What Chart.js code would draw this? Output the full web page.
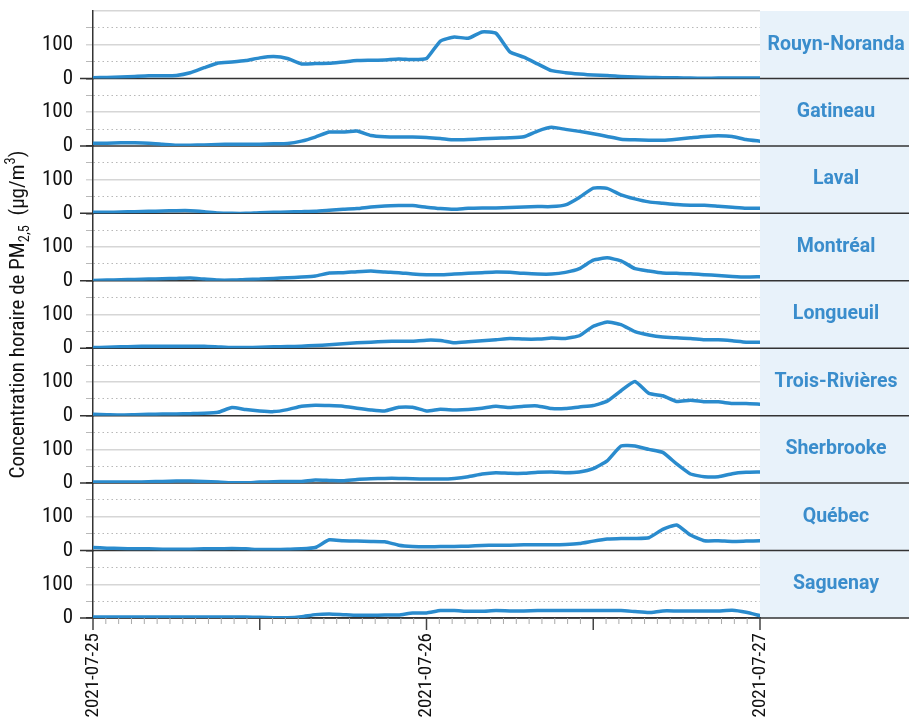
<!DOCTYPE html>
<html>
<head>
<meta charset="utf-8">
<script src="https://cdn.jsdelivr.net/npm/chart.js@4.4.1/dist/chart.umd.min.js"></script>
<style>
  html, body { margin: 0; padding: 0; background: #fff; }
  #wrap { width: 909px; height: 717px; }
</style>
</head>
<body>
<div id="wrap"><canvas id="pmChart"></canvas></div>
<script>
// hourly readings from 2021-07-25 00h to 2021-07-27 00h
const hours = Array.from({ length: 49 }, (_, i) => i);
const dateLabels = { 0: '2021-07-25', 24: '2021-07-26', 48: '2021-07-27' };
const stations = ['Rouyn-Noranda', 'Gatineau', 'Laval', 'Montréal', 'Longueuil',
                  'Trois-Rivières', 'Sherbrooke', 'Québec', 'Saguenay'];

const rouynNoranda = [2, 3, 4, 6, 8, 8, 9, 17, 32, 46, 49, 53, 61, 65, 59, 43, 44, 45, 49, 53, 54, 55, 58, 56, 59,
                      111, 123, 119, 138, 134, 79, 63, 43, 23, 17, 13, 10, 9, 6, 4, 3, 2, 2, 1, 0.5, 1, 1, 1, 1];
const gatineau = [8, 8, 9, 9, 8, 5, 2, 2, 3, 4, 5, 5, 5, 6, 7, 14, 26, 41, 41, 44, 31, 27, 26, 26, 25,
                  22, 18, 19, 21, 23, 24, 27, 44, 55, 49, 43, 36, 28, 20, 18, 17, 17, 20, 24, 28, 30, 28, 19, 14];
const laval = [3, 3, 4, 5, 6, 7, 8, 8, 5, 1, 0, 0, 2, 3, 4, 5, 6, 9, 12, 14, 19, 22, 23, 23, 18,
               14, 12, 15, 16, 16, 17, 19, 20, 20, 25, 47, 75, 74, 55, 43, 34, 30, 26, 24, 24, 21, 18, 15, 15];
const montreal = [1, 2, 3, 4, 5, 6, 7, 8, 5, 2, 2, 4, 5, 7, 9, 11, 14, 23, 24, 27, 29, 26, 24, 20, 18,
                  18, 20, 22, 24, 26, 25, 22, 20, 20, 25, 36, 61, 68, 59, 36, 29, 23, 22, 21, 18, 16, 13, 11, 12];
const longueuil = [2, 3, 4, 5, 6, 6, 6, 6, 6, 4, 2, 2, 3, 4, 5, 6, 8, 10, 13, 16, 18, 20, 21, 21, 24,
                   23, 16, 19, 22, 25, 29, 27, 27, 30, 29, 37, 65, 78, 70, 49, 39, 33, 31, 29, 25, 25, 22, 18, 18];
const troisRivieres = [4, 3, 2, 3, 4, 5, 5, 6, 7, 10, 24, 18, 14, 12, 18, 28, 31, 30, 28, 22, 17, 14, 25, 25, 14,
                       19, 17, 18, 22, 28, 24, 28, 29, 21, 21, 26, 30, 43, 74, 101, 66, 59, 42, 46, 41, 41, 36, 36, 34];
const sherbrooke = [3, 3, 3, 3, 4, 5, 6, 6, 5, 3, 1, 1, 3, 4, 5, 5, 9, 8, 7, 11, 13, 14, 14, 13, 12,
                    12, 14, 19, 27, 31, 29, 29, 32, 33, 31, 33, 43, 66, 110, 110, 100, 91, 57, 27, 19, 19, 28, 32, 33];
const quebec = [9, 7, 6, 5, 5, 4, 4, 4, 5, 5, 6, 5, 3, 3, 4, 5, 9, 32, 29, 28, 27, 26, 16, 12, 11,
                12, 12, 13, 15, 16, 16, 17, 17, 17, 18, 21, 28, 34, 36, 36, 38, 63, 76, 46, 29, 29, 27, 28, 29];
const saguenay = [3, 3, 3, 3, 3, 3, 3, 3, 3, 3, 3, 3, 2, 1, 1, 4, 10, 12, 10, 8, 8, 9, 9, 15, 15,
                  22, 22, 20, 20, 22, 21, 21, 22, 22, 22, 22, 22, 22, 22, 19, 16, 21, 21, 21, 21, 21, 23, 17, 7];

const series = [rouynNoranda, gatineau, laval, montreal, longueuil, troisRivieres, sherbrooke, quebec, saguenay];

const LINE = '#2a8bcd';
const narrow = "'Liberation Sans Narrow', 'Roboto Condensed', 'Liberation Sans', sans-serif";

const scales = {
    x: {
        type: 'linear', min: 0, max: 48,
        afterBuildTicks: (s) => { s.ticks = Array.from({ length: 53 }, (_, i) => ({ value: i * 12 / 13 })); },
        afterFit: (s) => { s.height = 99; },
        grid: { drawOnChartArea: false, drawTicks: false },
        border: { display: true, color: '#333', width: 1.5 },
        ticks: {
            autoSkip: false, minRotation: 90, maxRotation: 90, padding: 15,
            color: '#111', font: { family: narrow, size: 19 },
            callback: (v) => dateLabels[Math.round(v * 1000) / 1000] || '',
        },
    },
};

// left boxes in one stack get laid out last-created on top, so build from the bottom panel up
for (let i = stations.length - 1; i >= 0; i--) {
    scales['y' + i] = {
        type: 'linear', position: 'left', stack: 'panels', stackWeight: 1,
        min: 0, max: 200,
        afterFit: (s) => { s.width = 93; s.paddingTop = 0; s.paddingBottom = 0; },
        border: {
            display: true, color: '#333', width: 1.5,
            dash: (c) => (c.tick && c.tick.value % 100 === 50 ? [1.5, 3] : []),
        },
        grid: {
            color: (c) => {
                const v = c.tick.value;
                if (v === 0) return 'rgba(0,0,0,0)';
                if (v === 100) return '#d6d6d6';
                if (v === 200) return i === 0 ? '#d6d6d6' : 'rgba(0,0,0,0)';
                return '#b8b8b8';
            },
            lineWidth: (c) => (c.tick.value % 100 === 50 ? 1 : 1.5),
            tickLength: 7,
            tickColor: (c) => {
                const v = c.tick.value;
                if (v === 0) return '#333';
                if (v === 200) return 'rgba(0,0,0,0)';
                return v === 100 ? '#d6d6d6' : '#b8b8b8';
            },
        },
        ticks: {
            stepSize: 50, padding: 13, color: '#111', autoSkip: false,
            font: { family: narrow, size: 21, lineHeight: 1 },
            callback: (v) => (v === 0 || v === 100 ? String(v) : ''),
        },
    };
}

const panelDecor = {
    id: 'panelDecor',
    beforeDraw(chart) {
        const { ctx, chartArea: a } = chart;
        ctx.save();
        ctx.fillStyle = '#e8f2fa';
        ctx.fillRect(a.right, a.top, chart.width - a.right, a.bottom - a.top);
        ctx.restore();
    },
    beforeDatasetsDraw(chart) {
        const { ctx, chartArea: a } = chart;
        ctx.save();
        ctx.strokeStyle = '#333';
        ctx.lineWidth = 1.5;
        stations.forEach((name, i) => {
            const y = chart.scales['y' + i].getPixelForValue(0);
            ctx.beginPath(); ctx.moveTo(a.left - 13, y); ctx.lineTo(chart.width, y); ctx.stroke();
        });
        const xs = chart.scales.x;
        xs.ticks.forEach((t, i) => {
            const x = xs.getPixelForValue(t.value);
            const major = i % 13 === 0;
            ctx.strokeStyle = major ? '#444' : '#aaa';
            ctx.lineWidth = major ? 1.5 : 1;
            ctx.beginPath(); ctx.moveTo(x, a.bottom); ctx.lineTo(x, a.bottom + (major ? 12 : 6)); ctx.stroke();
        });
        ctx.restore();
    },
    afterDraw(chart) {
        const { ctx, chartArea: a } = chart;
        ctx.save();
        // facet strip labels
        ctx.fillStyle = '#3a8dcc';
        ctx.font = "bold 19.5px Roboto, 'Liberation Sans', sans-serif";
        ctx.textAlign = 'center';
        ctx.textBaseline = 'middle';
        stations.forEach((name, i) => {
            const s = chart.scales['y' + i];
            ctx.fillText(name, 836, (s.top + s.bottom) / 2);
        });
        // y title with sub/superscript
        const parts = [
            { t: 'Concentration horaire de PM', size: 21, dy: 0 },
            { t: '2,5', size: 14.5, dy: 6 },
            { t: '  (µg/m', size: 21, dy: 0 },
            { t: '3', size: 14.5, dy: -8 },
            { t: ')', size: 21, dy: 0 },
        ];
        ctx.fillStyle = '#111';
        ctx.textAlign = 'left';
        let total = 0;
        parts.forEach((p) => { ctx.font = `${p.size}px ${narrow}`; p.w = ctx.measureText(p.t).width; total += p.w; });
        ctx.translate(19, (a.top + a.bottom) / 2);
        ctx.rotate(-Math.PI / 2);
        let x = -total / 2;
        parts.forEach((p) => { ctx.font = `${p.size}px ${narrow}`; ctx.fillText(p.t, x, p.dy); x += p.w; });
        ctx.restore();
    },
};

new Chart(document.getElementById('pmChart'), {
    type: 'line',
    data: {
        labels: hours,
        datasets: series.map((d, i) => ({
            label: stations[i], data: d, yAxisID: 'y' + i, xAxisID: 'x',
            borderColor: LINE, borderWidth: 3.5, tension: 0.15, pointRadius: 0,
            borderJoinStyle: 'round', borderCapStyle: 'round', fill: false,
        })),
    },
    options: {
        responsive: true,
        maintainAspectRatio: false,
        animation: false,
        layout: { padding: { top: 11, right: 149, left: 0, bottom: 0 } },
        plugins: { legend: { display: false }, tooltip: { enabled: false } },
        scales,
    },
    plugins: [panelDecor],
});
</script>
</body>
</html>
